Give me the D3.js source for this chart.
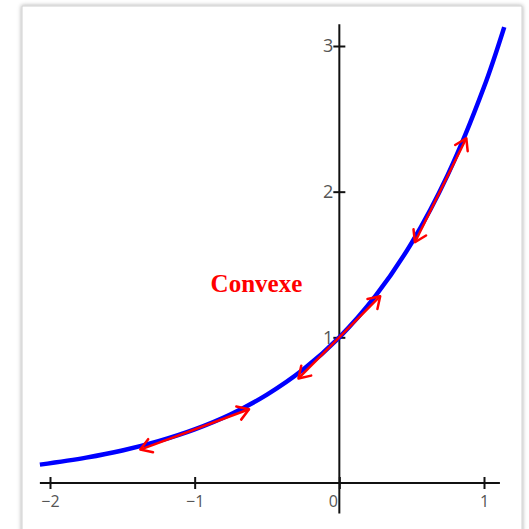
<!doctype html>
<html lang="en">
<head>
    <meta charset="utf-8">
    <title>Convexe</title>
    <script src="https://cdn.jsdelivr.net/npm/d3@7"></script>
    <style>
        body { margin: 0; background: #ffffff; }
        svg { display: block; }
    </style>
</head>
<body>
    <svg></svg>
    <script>
        var width = 529;
        var height = 529;

        // data
        var xTicks = [-2, -1, 0, 1];
        var yTicks = [1, 2, 3];
        var xExtent = [-2.07, 1.11];
        var yExtent = [-0.21, 3.15];
        // points of the blue curve
        var curveX = [-2.07, -1.75, -1.5, -1.25, -1, -0.75, -0.5, -0.25, 0, 0.25, 0.5, 0.75, 1, 1.14];
        var curveY = [0.126, 0.174, 0.223, 0.287, 0.368, 0.472, 0.607, 0.779, 1, 1.284, 1.649, 2.117, 2.718, 3.13];
        // tangents: contact point and slope
        var tanX = [-1, 0, 0.7];
        var tanY = [0.368, 1, 2.01];
        var tanSlope = [0.368, 1, 2.01];
        var label = 'Convexe';

        var x = d3.scaleLinear().domain([-2, 1]).range([50, 484]);
        var y = d3.scaleLinear().domain([0, 3]).range([483, 46]);

        var svg = d3.select('svg').attr('width', width).attr('height', height);

        // frame with a soft shadow
        var defs = svg.append('defs');
        var f = defs.append('filter').attr('id', 'shadow')
            .attr('x', '-5%').attr('y', '-5%').attr('width', '110%').attr('height', '110%');
        f.append('feDropShadow').attr('dx', 0).attr('dy', 0).attr('stdDeviation', 2)
            .attr('flood-color', '#000').attr('flood-opacity', 0.35);

        svg.append('rect')
            .attr('x', 22).attr('y', 6)
            .attr('width', 500).attr('height', 540)
            .attr('fill', '#fff')
            .attr('stroke', '#d0d0d0')
            .attr('stroke-width', 1)
            .attr('filter', 'url(#shadow)');

        // arrow heads
        defs.append('marker')
            .attr('id', 'arrow')
            .attr('markerUnits', 'userSpaceOnUse')
            .attr('viewBox', '-14 -9 16 18')
            .attr('refX', 0).attr('refY', 0)
            .attr('markerWidth', 16).attr('markerHeight', 18)
            .attr('orient', 'auto-start-reverse')
            .append('path')
            .attr('d', 'M-11,-7 L0,0 L-11,7')
            .attr('fill', 'none')
            .attr('stroke', '#ff0000')
            .attr('stroke-width', 2.5)
            .attr('stroke-linecap', 'round')
            .attr('stroke-linejoin', 'round');

        // axes lines
        svg.append('line')
            .attr('x1', x(xExtent[0])).attr('x2', x(xExtent[1]))
            .attr('y1', y(0)).attr('y2', y(0))
            .attr('stroke', '#111').attr('stroke-width', 2);
        svg.append('line')
            .attr('x1', x(0)).attr('x2', x(0))
            .attr('y1', y(yExtent[0])).attr('y2', y(yExtent[1]))
            .attr('stroke', '#111').attr('stroke-width', 2);

        // x ticks
        var xAxis = d3.axisBottom(x).tickValues(xTicks).tickSize(6)
            .tickFormat(function (d) { return d < 0 ? '\u2212' + Math.abs(d) : d; });
        var gx = svg.append('g')
            .attr('class', 'axis-x')
            .attr('transform', 'translate(0,' + y(0) + ')')
            .call(xAxis);
        gx.select('.domain').remove();
        gx.selectAll('line').attr('y1', -6).attr('y2', 6).attr('stroke', '#111').attr('stroke-width', 2);
        gx.selectAll('text')
            .attr('y', 24).attr('dy', 0)
            .attr('fill', '#555')
            .style('font-family', '"Open Sans", sans-serif')
            .style('font-size', '16px');
        gx.selectAll('.tick').filter(function (d) { return d === 0; }).select('text')
            .attr('text-anchor', 'end').attr('x', -2);

        // y ticks
        var yAxis = d3.axisLeft(y).tickValues(yTicks).tickSize(6).tickFormat(d3.format('d'));
        var gy = svg.append('g')
            .attr('class', 'axis-y')
            .attr('transform', 'translate(' + x(0) + ',0)')
            .call(yAxis);
        gy.select('.domain').remove();
        gy.selectAll('line').attr('x1', -6).attr('x2', 6).attr('stroke', '#111').attr('stroke-width', 2);
        gy.selectAll('text')
            .attr('x', -6)
            .attr('fill', '#555')
            .style('font-family', '"Open Sans", sans-serif')
            .style('font-size', '18px');

        // blue curve
        var pts = curveX.map(function (d, i) { return [d, curveY[i]]; });
        var line = d3.line()
            .x(function (d) { return x(d[0]); })
            .y(function (d) { return y(d[1]); })
            .curve(d3.curveCatmullRom);
        svg.append('path')
            .datum(pts)
            .attr('d', line)
            .attr('fill', 'none')
            .attr('stroke', '#0000ff')
            .attr('stroke-width', 4.5);

        // red tangents, fixed half length in pixels
        var half = 58;
        var tangents = tanX.map(function (d, i) {
            var dx = x(d + 1) - x(d);
            var dy = y(tanY[i] + tanSlope[i]) - y(tanY[i]);
            var n = Math.sqrt(dx * dx + dy * dy);
            var cx = x(d), cy = y(tanY[i]);
            return [cx - dx / n * half, cy - dy / n * half, cx + dx / n * half, cy + dy / n * half];
        });
        svg.append('g')
            .selectAll('line')
            .data(tangents)
            .enter()
            .append('line')
            .attr('x1', function (d) { return d[0]; })
            .attr('y1', function (d) { return d[1]; })
            .attr('x2', function (d) { return d[2]; })
            .attr('y2', function (d) { return d[3]; })
            .attr('stroke', '#ff0000')
            .attr('stroke-width', 2.5)
            .attr('marker-start', 'url(#arrow)')
            .attr('marker-end', 'url(#arrow)');

        // label
        svg.append('text')
            .attr('x', x(-0.89))
            .attr('y', y(1.31))
            .attr('fill', '#ff0000')
            .style('font-family', '"Liberation Serif", serif')
            .style('font-weight', 'bold')
            .style('font-size', '25px')
            .text(label);
    </script>
</body>
</html>
